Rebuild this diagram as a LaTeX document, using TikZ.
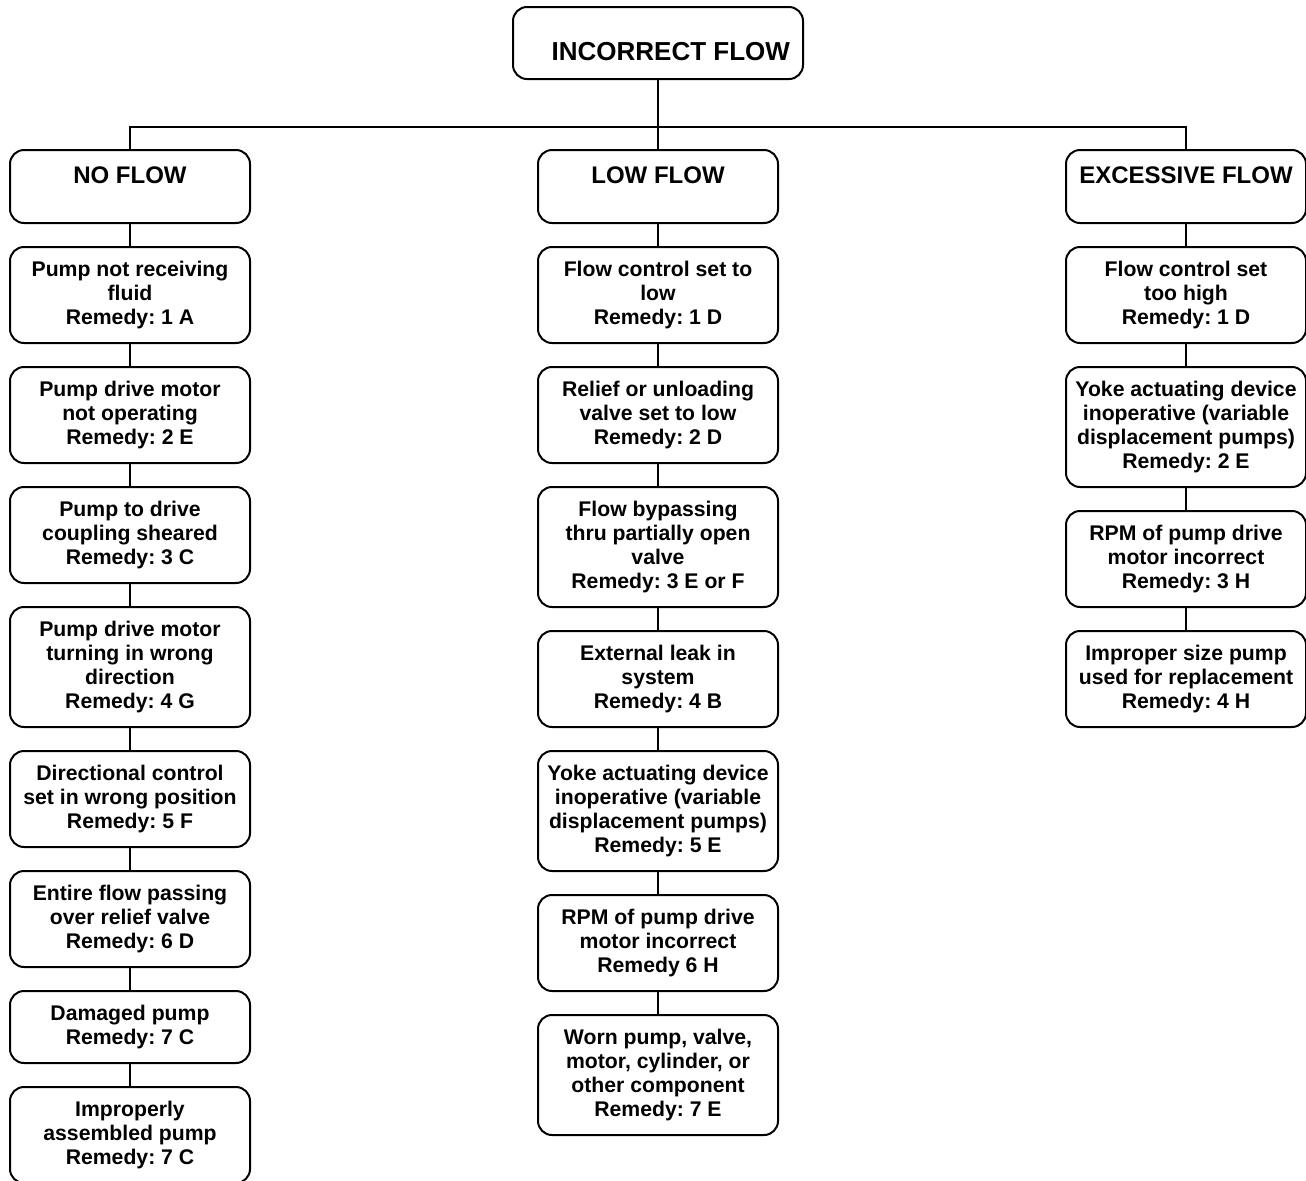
\documentclass[tikz,border=0pt]{standalone}
\usepackage{fontspec}
\setmainfont{Liberation Sans}
\frenchspacing
\usetikzlibrary{positioning}

\begin{document}
\begin{tikzpicture}[
    x=0.5pt, y=-0.5pt, line width=1pt, outer sep=0pt,
    topbox/.style={rectangle, draw=black, rounded corners=7pt, minimum width=145pt, inner xsep=6.5pt, inner ysep=0pt,
                   text width=132pt, align=flush right, text height=26.5pt, text depth=9.5pt, font=\fontsize{13}{15}\selectfont\bfseries},
    head/.style={rectangle, draw=black, rounded corners=7pt, minimum width=120pt, inner ysep=0pt,
                 text height=16.5pt, text depth=20pt, font=\fontsize{12}{14}\selectfont\bfseries},
    box/.style={rectangle, draw=black, rounded corners=7pt, minimum width=120pt, inner xsep=2pt, inner ysep=0pt,
                align=center, font=\fontsize{10.6}{12}\selectfont\bfseries, below=12pt of #1},
    two/.style={minimum height=36pt},
    three/.style={minimum height=48pt},
    four/.style={minimum height=60pt}
]
\useasboundingbox (0,0) rectangle (1306,1180);

\node (top) [topbox, anchor=north] at (658,7) {INCORRECT FLOW};
\coordinate (bus) at (0,127);

% column headers
\node (nohead) [head, anchor=north] at (130,150) {NO FLOW};
\node (lowhead) [head, anchor=north] at (658,150) {LOW FLOW};
\node (exhead) [head, anchor=north] at (1186,150) {EXCESSIVE FLOW};

% no flow
\node (no1) [box=nohead, three] {Pump not receiving\\fluid\\Remedy: 1 A};
\node (no2) [box=no1, three] {Pump drive motor\\not operating\\Remedy: 2 E};
\node (no3) [box=no2, three] {Pump to drive\\coupling sheared\\Remedy: 3 C};
\node (no4) [box=no3, four] {Pump drive motor\\turning in wrong\\direction\\Remedy: 4 G};
\node (no5) [box=no4, three] {Directional control\\set in wrong position\\Remedy: 5 F};
\node (no6) [box=no5, three] {Entire flow passing\\over relief valve\\Remedy: 6 D};
\node (no7) [box=no6, two] {Damaged pump\\Remedy: 7 C};
\node (no8) [box=no7, three] {Improperly\\assembled pump\\Remedy: 7 C};

% low flow
\node (low1) [box=lowhead, three] {Flow control set to\\low\\Remedy: 1 D};
\node (low2) [box=low1, three] {Relief or unloading\\valve set to low\\Remedy: 2 D};
\node (low3) [box=low2, four] {Flow bypassing\\thru partially open\\valve\\Remedy: 3 E or F};
\node (low4) [box=low3, three] {External leak in\\system\\Remedy: 4 B};
\node (low5) [box=low4, four] {Yoke actuating device\\inoperative (variable\\displacement pumps)\\Remedy: 5 E};
\node (low6) [box=low5, three] {RPM of pump drive\\motor incorrect\\Remedy 6 H};
\node (low7) [box=low6, four] {Worn pump, valve,\\motor, cylinder, or\\other component\\Remedy: 7 E};

% excessive flow
\node (ex1) [box=exhead, three] {Flow control set\\too high\\Remedy: 1 D};
\node (ex2) [box=ex1, four] {Yoke actuating device\\inoperative (variable\\displacement pumps)\\Remedy: 2 E};
\node (ex3) [box=ex2, three] {RPM of pump drive\\motor incorrect\\Remedy: 3 H};
\node (ex4) [box=ex3, three] {Improper size pump\\used for replacement\\Remedy: 4 H};

% connectors
\draw (top.south) -- (lowhead.north);
\draw (nohead.north) |- (top.south |- bus) -| (exhead.north);
\draw (nohead) -- (no1) -- (no2) -- (no3) -- (no4) -- (no5) -- (no6) -- (no7) -- (no8);
\draw (lowhead) -- (low1) -- (low2) -- (low3) -- (low4) -- (low5) -- (low6) -- (low7);
\draw (exhead) -- (ex1) -- (ex2) -- (ex3) -- (ex4);
\end{tikzpicture}
\end{document}
